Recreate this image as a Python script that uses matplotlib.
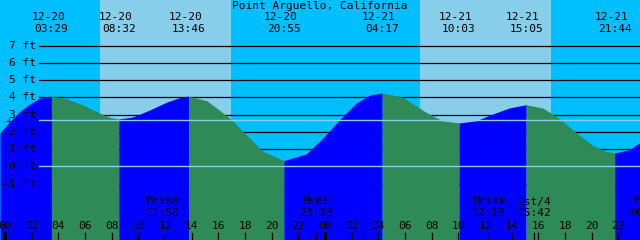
import matplotlib
matplotlib.use("Agg")
import matplotlib.pyplot as plt

# Tide station
title = "Point Arguello, California"

# Water level (hours since 12-20 00:00, feet)
tide_hours = [-0.375, 0.375, 1.125, 1.875, 2.625, 3.483, 4.63, 5.87, 7.125, 7.875,
              8.533, 9.6, 10.875, 12.13, 13.125, 13.767, 15.13, 15.6, 16.85, 18.1,
              19.35, 20.917, 22.6, 23.85, 25.1, 26.35, 27.35, 28.283, 29.85, 31.6,
              32.83, 34.05, 35.33, 36.58, 37.82, 39.083, 40.33, 41.57, 42.83, 44.08,
              45.08, 45.733, 46.82, 47.625]
tide_feet = [1.93, 2.6, 3.19, 3.61, 3.96, 4.07, 3.91, 3.55, 3.08, 2.84,
             2.74, 2.86, 3.27, 3.72, 3.99, 4.07, 3.8, 3.53, 2.8, 1.83,
             0.87, 0.33, 0.72, 1.64, 2.7, 3.66, 4.12, 4.25, 4.0, 3.12,
             2.64, 2.51, 2.64, 3.03, 3.38, 3.57, 3.38, 2.78, 1.95, 1.22,
             0.86, 0.77, 0.96, 1.38]

# High / low tide events shown along the top
event_hours = [3.483, 8.533, 13.767, 20.917, 28.283, 34.05, 39.083, 45.733]
event_dates = ["12-20", "12-20", "12-20", "12-20", "12-21", "12-21", "12-21", "12-21"]
event_times = ["03:29", "08:32", "13:46", "20:55", "04:17", "10:03", "15:05", "21:44"]

# Moon events along the bottom
moon_hours = [11.833, 23.3, 36.3, 39.7, 48.15]
moon_names = ["Mrise", "Mset", "Mrise", "1st/4", "Mset"]
moon_times = ["11:50", "23:18", "12:18", "15:42", "00:09"]

# Daylight (sunrise, sunset) in hours
daylight = [(7.12, 16.95), (31.13, 40.95)]

feet_levels = [-1, 0, 1, 2, 3, 4, 5, 6, 7]
mean_level = 2.67

NIGHT = "#00BFFF"
DAY = "#87CEEB"
RISING = "#0000FF"
FALLING = "#2E8B57"
DATUM = "#87CEEB"

W, H = 640, 240
ZERO_PY = 166.3
PX_PER_FT = 17.25
X0, X1 = -0.375, 47.625


def yft(py):
    return (ZERO_PY - py) / PX_PER_FT


def xh(px):
    return X0 + (X1 - X0) * px / W


fig = plt.figure(figsize=(6.4, 2.4), dpi=100)
ax = fig.add_axes([0, 0, 1, 1])
ax.set_xlim(X0, X1)
ax.set_ylim(yft(H), yft(0))
ax.axis("off")
ax.set_facecolor(NIGHT)
fig.patch.set_facecolor(NIGHT)

bottom = yft(H)
top = yft(0)

for rise, sset in daylight:
    ax.axvspan(rise, sset, color=DAY, lw=0, zorder=0)

# black foot lines behind the water
for lv in feet_levels:
    if lv != 0:
        ax.plot([xh(39), X1], [lv, lv], color="black", lw=0.9, zorder=1)

# water, coloured rising / falling between events
bounds = [X0] + event_hours + [X1]
for a, b in zip(bounds[:-1], bounds[1:]):
    xs = [t for t, f in zip(tide_hours, tide_feet) if a - 1e-6 <= t <= b + 1e-6]
    ys = [f for t, f in zip(tide_hours, tide_feet) if a - 1e-6 <= t <= b + 1e-6]
    col = RISING if ys[-1] > ys[0] else FALLING
    ax.fill_between(xs, ys, bottom, color=col, lw=0, zorder=2)

# datum and mean level lines on top
ax.plot([xh(39), X1], [0, 0], color=DATUM, lw=1.0, zorder=3)
ax.plot([xh(39), X1], [mean_level, mean_level], color=DATUM, lw=1.0, zorder=3)

font = dict(family="DejaVu Sans Mono", fontsize=8, color="black", zorder=5)

for lv in feet_levels:
    ax.text(xh(36), lv, f"{lv} ft", ha="right", va="center", **font)
ax.text(xh(9), mean_level - 0.05, "+", ha="center", va="center", **font)

ax.text(xh(320), yft(6), title, ha="center", va="center", **font)
for h, d, t in zip(event_hours, event_dates, event_times):
    ax.text(h - 0.25, yft(17), d, ha="center", va="center", **font)
    ax.text(h, yft(29.5), t, ha="center", va="center", **font)

for h, n, t in zip(moon_hours, moon_names, moon_times):
    ax.text(h, yft(201.5), n, ha="center", va="center", **font)
    ax.text(h, yft(213.5), t, ha="center", va="center", **font)
    ax.plot([h, h], [yft(232.5), bottom], color="black", lw=0.9, zorder=5)

for hr in range(0, 50, 2):
    ax.text(hr, yft(226), f"{hr % 24:02d}", ha="center", va="center", **font)
    lw = 2.2 if hr % 24 == 0 else 0.9
    ax.plot([hr, hr], [yft(232.5), bottom], color="black", lw=lw, zorder=5)

fig.savefig("out.png", dpi=100, facecolor=NIGHT)
